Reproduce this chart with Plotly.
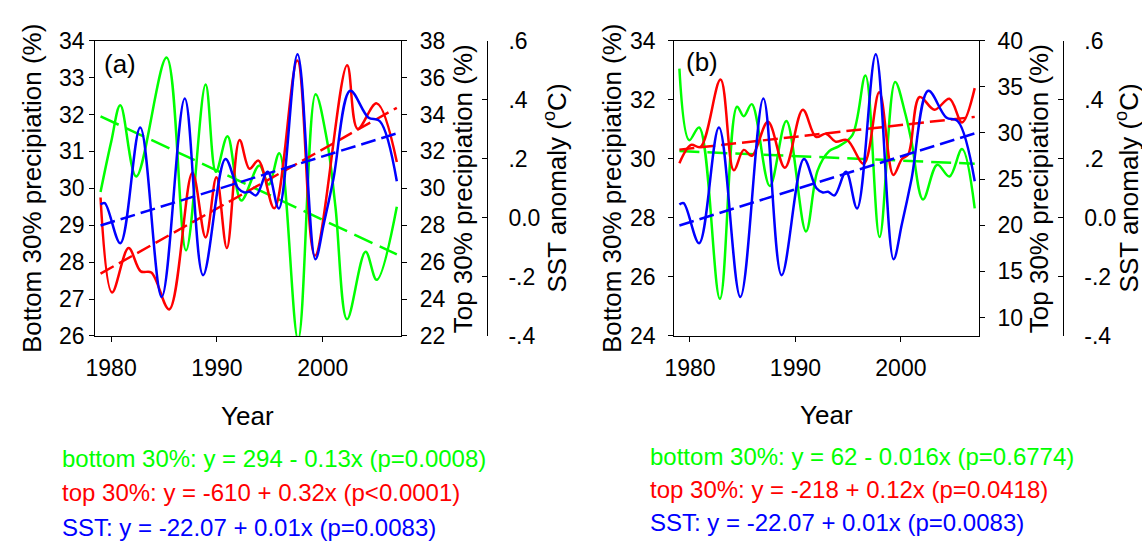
import plotly.graph_objects as go

FONT = "Liberation Sans, Arial, sans-serif"
GREEN, RED, BLUE = "#00FF00", "#FF0000", "#0000FF"

# ---------------- Panel (a) data ----------------
a_bottom_years = [1979.0, 1980.0, 1980.87, 1982.37, 1985.24, 1987.08, 1988.93, 1989.9, 1991.0,
                  1992.3, 1994.0, 1994.9, 1995.9, 1997.67, 1999.32, 2000.4, 2001.2, 2002.3,
                  2004.05, 2005.1, 2007.0]
a_bottom_vals = [29.90, 31.25, 32.25, 30.32, 33.54, 28.32, 32.81, 30.45, 31.41,
                 29.67, 30.62, 30.10, 30.95, 25.90, 32.55, 31.30, 29.50, 26.45,
                 28.28, 27.52, 29.50]

a_top_years = [1979.0, 1980.09, 1981.65, 1982.8, 1983.8, 1985.49, 1987.68, 1988.93, 1989.95,
               1990.94, 1992.14, 1993.08, 1993.92, 1995.42, 1997.6, 1999.26, 2002.3, 2003.3,
               2005.1, 2007.0]
a_top_vals = [29.5, 24.36, 26.76, 25.5, 25.44, 23.44, 30.84, 27.34, 30.6,
              26.76, 32.62, 31.06, 31.5, 28.92, 36.92, 26.34, 36.66, 33.22,
              34.6, 31.42]

# ---------------- Panel (b) data ----------------
b_bottom_years = [1979.0, 1979.93, 1980.87, 1982.84, 1984.46, 1985.1, 1985.86, 1987.57, 1989.14,
                  1991.0, 1992.1, 1993.2, 1994.1, 1995.4, 1996.64, 1997.98, 1999.45, 2000.4,
                  2001.0, 2002.1, 2003.45, 2004.6, 2005.8, 2007.0]
b_bottom_vals = [33.05, 30.63, 31.06, 25.26, 31.76, 31.44, 31.85, 29.08, 31.28,
                 27.54, 29.6, 30.26, 30.42, 30.8, 32.82, 27.35, 32.6, 31.55,
                 30.6, 28.62, 29.8, 29.4, 30.33, 28.32]

b_top_years = [1979.0, 1980.1, 1981.0, 1982.9, 1984.15, 1985.1, 1985.86, 1987.4, 1989.0,
               1990.7, 1991.95, 1992.9, 1993.8, 1994.9, 1996.48, 1997.95, 1999.28, 2000.1,
               2000.7, 2001.78, 2003.19, 2004.6, 2005.8, 2007.0]
b_top_vals = [26.72, 28.70, 28.48, 35.78, 25.95, 28.16, 27.52, 31.2, 26.24,
              32.51, 29.57, 29.92, 29.06, 29.22, 26.66, 34.4, 25.44, 27.17,
              27.68, 33.89, 32.51, 33.7, 31.14, 34.85]

# ---------------- SST (same series in both panels) ----------------
sst_years = [1979.0, 1979.4, 1980.87, 1982.75, 1984.78, 1986.96, 1988.69, 1990.8, 1992.0,
             1992.6, 1993.1, 1993.7, 1994.8, 1995.85, 1997.62, 1999.3, 2000.1, 2001.0,
             2002.6, 2004.3, 2005.4, 2007.0]
sst_vals = [0.045, 0.05, -0.086, 0.306, -0.268, 0.404, -0.194, 0.199, 0.10,
            0.086, 0.088, 0.076, 0.156, 0.032, 0.554, -0.14, -0.02, 0.13,
            0.43, 0.34, 0.327, 0.124]

# ---------------- Trend lines (end points) ----------------
trend_years = [1979, 2007]
a_bottom_trend = [31.95, 28.21]
a_top_trend = [25.38, 34.36]
b_bottom_trend = [30.26, 29.83]
b_top_trend = [28.19, 31.74]
sst_trend = [-0.026, 0.286]

# ---------------- Text ----------------
a_eq = ["bottom 30%: y = 294 - 0.13x (p=0.0008)",
        "top 30%: y = -610 + 0.32x (p<0.0001)",
        "SST: y = -22.07 + 0.01x (p=0.0083)"]
b_eq = ["bottom 30%: y = 62 - 0.016x (p=0.6774)",
        "top 30%: y = -218 + 0.12x (p=0.0418)",
        "SST: y = -22.07 + 0.01x (p=0.0083)"]
x_ticks = [1980, 1990, 2000]
sst_tickvals = [-0.4, -0.2, 0.0, 0.2, 0.4, 0.6]
sst_ticktext = ["-.4", "-.2", "0.0", ".2", ".4", ".6"]

W, H = 1142, 550
def px(x):
    return x / W
def py(y):
    return 1 - y / H

LW = 2.5
DASH = "15px,6px"

fig = go.Figure()

def add_panel(xa, ya_left, ya_right, ya_sst, bot_y, bot_v, top_y, top_v, bt, tt):
    fig.add_trace(go.Scatter(x=bot_y, y=bot_v, xaxis=xa, yaxis=ya_left, mode="lines",
                             line=dict(color=GREEN, width=LW, shape="spline", smoothing=1.0)))
    fig.add_trace(go.Scatter(x=trend_years, y=bt, xaxis=xa, yaxis=ya_left, mode="lines",
                             line=dict(color=GREEN, width=LW, dash="20px,8px")))
    fig.add_trace(go.Scatter(x=top_y, y=top_v, xaxis=xa, yaxis=ya_right, mode="lines",
                             line=dict(color=RED, width=LW, shape="spline", smoothing=1.0)))
    fig.add_trace(go.Scatter(x=trend_years, y=tt, xaxis=xa, yaxis=ya_right, mode="lines",
                             line=dict(color=RED, width=LW, dash=DASH)))
    fig.add_trace(go.Scatter(x=sst_years, y=sst_vals, xaxis=xa, yaxis=ya_sst, mode="lines",
                             line=dict(color=BLUE, width=LW, shape="spline", smoothing=1.0)))
    fig.add_trace(go.Scatter(x=trend_years, y=sst_trend, xaxis=xa, yaxis=ya_sst, mode="lines",
                             line=dict(color=BLUE, width=LW, dash=DASH)))

add_panel("x", "y", "y2", "y3", a_bottom_years, a_bottom_vals, a_top_years, a_top_vals,
          a_bottom_trend, a_top_trend)
add_panel("x2", "y4", "y5", "y6", b_bottom_years, b_bottom_vals, b_top_years, b_top_vals,
          b_bottom_trend, b_top_trend)

tickfont = dict(family=FONT, size=23, color="black")
common_axis = dict(showgrid=False, zeroline=False, showline=True, linecolor="black",
                   linewidth=1, ticks="outside", ticklen=5, tickcolor="black",
                   tickfont=tickfont)

ydom = [py(339), py(29)]
xa_dom = [px(86), px(394.5)]
xb_dom = [px(670), px(977.5)]
xrange = [1978.5, 2007.4]

fig.update_layout(
    width=W, height=H, margin=dict(l=0, r=0, t=0, b=0),
    paper_bgcolor="white", plot_bgcolor="white", showlegend=False,
    xaxis=dict(domain=xa_dom, range=xrange, anchor="y", tickvals=x_ticks, mirror=True,
               ticklabelstandoff=6, **common_axis),
    yaxis=dict(domain=ydom, range=[26, 34], dtick=1, anchor="x", side="left",
               ticklabelstandoff=0, **common_axis),
    yaxis2=dict(domain=ydom, range=[22, 38], dtick=2, anchor="x", overlaying="y",
                side="right", ticklabelstandoff=8, **common_axis),
    yaxis3=dict(domain=ydom, range=[-0.4, 0.6], tickvals=sst_tickvals, ticktext=sst_ticktext,
                anchor="free", position=px(481), overlaying="y", side="right",
                **{**common_axis, "ticks": "inside"}, ticklabelstandoff=16),
    xaxis2=dict(domain=xb_dom, range=xrange, anchor="y4", tickvals=x_ticks, mirror=True,
                ticklabelstandoff=6, **common_axis),
    yaxis4=dict(domain=ydom, range=[24, 34], dtick=2, anchor="x2", side="left",
                ticklabelstandoff=8, **common_axis),
    yaxis5=dict(domain=ydom, range=[8, 40], dtick=5, anchor="x2", overlaying="y4",
                side="right", ticklabelstandoff=8, **common_axis),
    yaxis6=dict(domain=ydom, range=[-0.4, 0.6], tickvals=sst_tickvals, ticktext=sst_ticktext,
                anchor="free", position=px(1062), overlaying="y4", side="right",
                **{**common_axis, "ticks": "inside"}, ticklabelstandoff=16),
)

ann = []
def title(text, x, y, angle=0, size=26, color="black", xanchor="center"):
    ann.append(dict(text=text, x=px(x), y=py(y), xref="paper", yref="paper",
                    showarrow=False, textangle=angle, xanchor=xanchor, yanchor="middle",
                    font=dict(family=FONT, size=size, color=color)))

ymid = 184
# panel (a) titles
title("Bottom 30% precipiation (%)", 22, ymid, -90)
title("Top 30% precipiation (%)", 457, ymid, -90)
title("SST anomaly (<sup>o</sup>C)", 550, ymid, -90)
title("Year", 240, 423)
title("(a)", 93, 54, size=26, xanchor="left")
# panel (b) titles
title("Bottom 30% precipiation (%)", 608, ymid, -90)
title("Top 30% precipiation (%)", 1038, ymid, -90)
title("SST anomaly (<sup>o</sup>C)", 1127, ymid, -90)
title("Year", 824, 422)
title("(b)", 680, 51, size=26, xanchor="left")

colors = [GREEN, RED, BLUE]
for i, (t, yy) in enumerate(zip(a_eq, [468, 503, 540])):
    title(t, 50, yy, size=24, color=colors[i], xanchor="left")
for i, (t, yy) in enumerate(zip(b_eq, [465, 500, 535])):
    title(t, 644, yy, size=24, color=colors[i], xanchor="left")

fig.update_layout(annotations=ann)
fig.write_html("out.html")
